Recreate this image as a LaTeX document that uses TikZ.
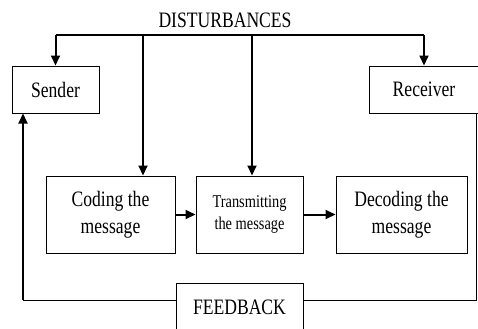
\documentclass[tikz,border=0pt]{standalone}
\usepackage{fontspec}
\newfontfamily\diagfont[FakeStretch=0.8]{Liberation Serif}
\usetikzlibrary{arrows.meta, positioning}

\begin{document}
\begin{tikzpicture}[x=0.5pt, y=-0.5pt, every node/.style={font=\diagfont\fontsize{11}{13.5}\selectfont},
  box/.style={draw, line width=0.5pt, inner sep=0pt, minimum height=38.5pt, align=center},
  topbox/.style={box, minimum height=23.5pt},
  flow/.style={-{Triangle[width=4.5pt, length=5pt]}, line width=1pt}]
  % frame of the picture
  \fill[white] (0,0) rectangle (478,328);
  \useasboundingbox (0,0) rectangle (478,328);

  % Sender and receiver
  \node[topbox, minimum width=43.5pt] (snd) at (55.5,89.5) {Sender};
  \node[topbox, minimum width=55pt] (rec) at (424,89.5) {Receiver};

  % The three steps
  \node[box, minimum width=64.5pt] (code) at (110.5,214.5) {Coding the\\message};
  \node[box, minimum width=53.5pt, font=\diagfont\fontsize{9}{11}\selectfont] (trans) at (249.5,214.5)
    {Transmitting\\the message};
  \node[box, minimum width=65.5pt] (dec) at (401.5,214.5) {Decoding the\\message};

  % Feedback
  \node[topbox, minimum width=63.5pt, minimum height=24pt] (fb) at (239.5,307) {FEEDBACK};

  % Disturbances
  \node (dist) at (225,20) {DISTURBANCES};
  \coordinate (d1) at (143,35);
  \coordinate (d2) at (252,35);
  \draw[line width=1pt] (snd.north |- d1) -- (rec.north |- d1);
  \draw[flow] (snd.north |- d1) -- (snd.north);
  \draw[flow] (rec.north |- d1) -- (rec.north);
  \draw[flow] (d1) -- (d1 |- code.north);
  \draw[flow] (d2) -- (d2 |- trans.north);

  % Sequential arrows
  \draw[flow] (code.east) -- (trans.west);
  \draw[flow] (trans.east) -- (dec.west);

  % Feedback loop
  \coordinate (fbL) at (23,300);
  \coordinate (fbR) at (476,300);
  \draw[line width=0.5pt] (fb.east |- fbR) -- (fbR) -- (fbR |- rec.south);
  \draw[line width=0.5pt] (fb.west |- fbL) -- (fbL);
  \draw[flow] (fbL) -- (fbL |- snd.south);
\end{tikzpicture}
\end{document}
